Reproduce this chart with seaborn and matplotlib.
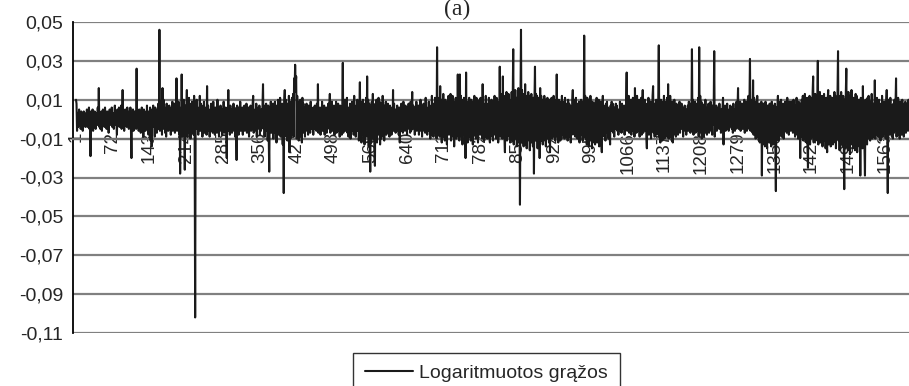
import numpy as np
import pandas as pd
import matplotlib
matplotlib.use("Agg")
import matplotlib.pyplot as plt
import seaborn as sns

# Log returns in thousandths
seg_a = [
 10, 8, -6, 3, -4, 2, 5, -3, 1, -5, 4, -2, 3, -6, 2, 4, -3, 1, -4, 3,
 -2, 5, -4, 3, -1, 6, -5, 2, -19, 4, -3, 2, 5, -6, 3, -2, 4, -1, -5, 3,
 2, -3, 6, -2, 16, -4, 3, -5, 2, 4, -6, 1, 5, -3, 2, -4, 6, -2, 3, -5,
 4, -1, 3, -7, 2, 5, -3, 4, -2, 6, -4, 1, 3, -5, 2, 7, -3, 4, -2, -8,
 5, -3, 2, 6, -4, 3, -2, 7, -5, 1, 15, -3, 4, -6, 2, 5, -2, 3, -4, 6,
 -3, 2, -5, 4, -2, 6, -4, -20, 3, -2, 5, -6, 2, 4, -3, 1, -5, 26, -4, 3,
 2, -6, 5, -3, 4, -7, 2, 6, -4, 3, -9, 5, -2, 4, -6, 3, -5, 7, -3, 2,
 -8, 4, -2, 6, -11, 3, -14, 5, -3, 7, -4, 2, -9, 6, -3, 4, -7, 5, -2, 8,
 -5, 46, -6, 9, -4, 7, -8, 16, -5, 10, -3, 6, -7, 4, -9, 8, -4, 5, -6, 3,
 7, -5, 4, -8, 6, -3, 9, -6, 5, -4, 8, -7, 3, -5, 21, -6, 7, -4, 9, -8,
]
seg_b = [
 6, -28, 5, -7, 23, -9, 8, -6, 10, -4, -26, 7, -8, 5, 15, -9, 6, -5, 11, -7,
 8, -10, 6, -4, 9, -7, 5, -8, 12, -6, -102, 7, -5, 10, -4, 6, -8, 5, -3, 12,
 -6, 8, -4, 7, -9, 5, -3, 9, -7, 4, -5, 6, -8, 17, -4, 7, -6, 3, -9, 5,
 -4, 8, -6, 3, -7, 9, -5, 4, -8, 6, -3, 5, -7, 10, -4, 6, -9, 3, -5, 7,
 -6, 4, -8, 5, -3, 9, -7, 4, -5, 6, -9, -20, 5, -4, 15, -6, 3, -8, 7, -4,
 5, -7, 3, -6, 8, -4, 6, -9, 4, -5, -21, 7, -4, 6, -8, 3, -5, 9, -6, 4,
 -3, 6, -8, 5, -4, 7, -6, 3, -5, 8, -7, 4, -3, 6, -9, 5, -4, 7, -6, 3,
 -5, 8, 12, -7, 4, -6, 5, -3, 8, -9, 4, -5, 6, -4, 7, -8, 3, -6, 5, -4,
 6, 18, -5, 7, -9, 4, -6, 8, -4, 5, -11, 7, -8, -27, 6, -5, 9, -7, 4, -6,
 8, -10, 5, -7, 9, -4, 6, -12, 7, -5, 10, -8, 4, -6, 11, -9, 5, -7, 8, -13,
]
seg_c = [
 6, -38, 9, 15, -7, 10, -9, 6, -11, 8, -5, 12, -17, 7, -10, 9, -6, 11, -8, 13,
 -9, 21, 14, 28, 18, 22, -10, 12, -7, 9, -11, 8, -6, 10, -9, 7, -12, 11, -5, 8,
 -7, 6, -9, 5, -4, 8, -6, 4, -8, 7, -3, 5, -7, 9, -5, 6, -4, 3, -8, 6,
 -5, 7, -3, 4, -6, 8, -4, 18, -7, 5, -3, 6, -8, 4, -5, 9, -6, 3, -4, 7,
 -8, 5, -3, 6, -7, 4, -5, 8, -4, 6, 13, -7, 5, -3, 9, -6, 4, -5, 7, -8,
 6, -4, 9, -7, 5, -3, 8, -6, 4, -9, 7, -5, 3, -8, 6, 29, -7, 5, -4, 10,
 -6, 8, -5, 11, -7, 4, -9, 6, -3, 8, -10, 5, -6, 9, -4, 7, -8, 12, -5, 6,
 -9, 7, -4, 10, -6, 8, -11, 5, 19, -7, 9, -12, 6, -8, 10, -5, 7, -13, 8, -6,
 11, -9, 22, -7, 10, -14, 8, -11, -27, 6, -12, 9, -8, 13, -10, 7, -15, -24, 8, -9,
 10, -12, 7, -8, 11, -6, 9, -13, 5, -10, 8, -7, 12, -9, 6, -11, 7, -5, 9, -8,
]
seg_d = [
 6, -4, 8, -7, 5, -9, 7, -3, 6, -8, 4, -5, 15, -6, 8, -4, 5, -7, 3, -6,
 7, -5, 4, -8, 6, -12, 5, -3, 8, -6, 4, -7, 9, -5, 3, -6, 7, -4, 5, -8,
 6, -3, 8, -5, 4, -7, 9, -6, 3, 14, -5, 7, -4, 6, -8, 5, -3, 9, -6, 4,
 -5, 7, -8, 4, -6, 10, -4, 7, -9, 5, -3, 8, -6, 4, -7, 11, -5, 6, -8, 4,
 -6, 9, -4, 7, -10, 5, -8, 12, -6, 4, -9, 8, -5, 11, -7, 6, -10, 37, -8, 9,
 -6, 11, -9, 17, -7, 10, -12, 8, -5, 13, -9, 7, -11, 10, -6, 8, -13, 9, -7, 12,
 -8, 10, -6, 13, -11, 7, -9, 12, -5, 9, -14, 8, -7, 11, -10, 6, -8, 23, -9, 7,
 -11, 23, -6, 12, -9, 8, -13, 10, -7, 11, -8, 9, -20, 24, -10, 7, -12, 9, -6, 11,
 -9, 7, -11, 10, -6, 8, -13, 9, -5, 12, -8, 6, -10, 11, -7, 9, -12, 8, -6, 10,
 -8, 11, -7, 9, -10, 18, -6, 8, -11, 7, -9, 12, -5, 8, -10, 6, -7, 11, -9, -12,
]
seg_e = [
 8, -6, 10, -9, 7, -11, 9, -5, 12, -8, 6, -10, 11, -7, 9, -12, 8, -6, 27, -9,
 11, -8, 13, -10, 22, -7, 12, -9, -17, 10, -6, 14, -11, 8, -9, 13, -7, 10, -12, 9,
 -8, 14, -11, 10, 36, -13, 12, -9, 15, -10, 11, -14, 9, -12, 16, -11, 13, -44, 10, 46,
 -12, 15, -10, 13, -14, 11, -9, 18, -13, 12, -15, 10, -11, 14, -9, 12, -16, 11, -10, 13,
 -12, 10, -14, 11, -28, 9, 27, -11, 13, -10, 12, -15, 9, -12, 11, -20, 16, -9, 12, -11,
 10, -13, 9, -11, 12, -8, 10, -14, 9, -7, 11, -10, 8, -12, 10, -17, 9, -8, 11, -10,
 8, -9, 12, -7, 10, -11, 8, -6, 23, -9, 7, -12, 10, -8, 9, -11, 6, -10, 12, -7,
 9, -8, 6, -10, 11, -7, 8, -9, 5, -11, 10, -6, 8, -9, 7, -12, 6, -8, 9, 15,
 -7, 10, -8, 6, -9, 11, -5, 7, -10, 8, -6, 9, -12, 7, -8, 10, -5, 9, -11, 6,
 -8, 43, -9, 12, -10, 8, -13, 11, -7, 9, -14, 10, -8, 12, -11, 7, -15, 9, -12, 8,
]
seg_f = [
 -10, 7, -13, 9, -8, 11, -12, 6, -9, 10, -14, 8, -7, 9, -11, -17, 6, 12, -8, 7,
 -9, 6, -11, 8, -5, 9, -7, 6, -10, 5, -8, -13, 7, -6, 9, -4, 8, -7, 5, -9,
 6, -5, 8, -4, 7, -6, 3, -8, 5, -4, 9, -6, 4, -7, 8, -5, 6, -3, 7, -8,
 5, -4, 11, 24, -6, 9, -5, 12, -7, 6, -4, 10, -8, 7, -5, 11, -6, 8, -9, 16,
 -5, 9, -7, 12, -4, 8, -6, 10, -9, 7, -5, 11, -8, 6, 15, -7, 9, -4, 10, -6,
 8, -9, -15, 7, -5, 11, -8, 6, -4, 9, -10, 7, -6, 12, 17, -7, 8, -9, 6, -5,
 10, -8, 7, -6, 11, 38, -9, 8, -12, 10, -7, 9, -11, 6, -8, 12, -10, 7, -6, 9,
 -9, 11, -7, 18, -10, 8, -6, 12, -9, 7, -11, 9, -12, 6, -8, 10, -7, 5, -9, 8,
 -6, 7, -8, 5, -4, 9, -7, 6, -5, 8, -3, 6, -9, 4, -5, 7, -6, 3, -8, 5,
 -4, 7, -6, 9, -5, 4, -7, 8, -3, 36, -6, 10, -8, 6, -4, 9, -7, 5, -6, 8,
]
seg_g = [
 -5, 11, -9, 37, -7, 12, -6, 9, -10, 8, -4, 7, -9, 6, -5, 10, -7, 4, -8, 6,
 -5, 8, -7, 5, -4, 9, -6, 4, -8, 7, -3, 6, 35, -9, 5, -4, 7, -6, 3, -5,
 6, -4, 8, -5, 3, -7, 5, -4, 6, 11, -13, 5, -3, 7, -6, 4, -5, 8, -4, 3,
 -6, 5, -4, 7, -3, 6, -5, 4, -7, 8, -4, 5, -6, 3, -5, 9, -4, 6, 16, -5,
 7, -4, 9, -6, 5, -3, 8, -5, 6, -4, 10, -7, 5, -3, 9, -6, 7, -5, 12, -4,
 8, 31, -6, 10, -5, 9, -7, 20, -8, 11, -6, 9, -10, 7, -8, 12, -9, 6, -11, 8,
 -12, 7, -10, 9, -29, 6, -13, 8, -11, 5, -14, 9, -10, 6, -15, 7, -9, 5, -12, 8,
 -11, 6, -14, 9, -10, 7, -13, 5, -9, 8, -16, -37, 6, -10, 7, 12, -11, 5, -8, 9,
 -7, 10, -9, 6, -5, 8, -10, 7, -4, 9, -6, 8, -7, 11, -5, 6, -8, 9, -4, 7,
 -6, 9, -5, 8, -7, 10, -4, 6, -9, 7, -5, 11, -8, 6, -10, 9, -7, 5, -20, 8,
]
seg_h = [
 -9, 10, -7, 12, -11, 8, -10, 13, -8, 9, -12, 11, -14, -25, 10, -9, 12, -13, 8, -10,
 11, -9, 14, 22, -12, 10, -8, 13, -11, 9, -10, 12, 30, -13, 11, -9, 14, -12, 10, -8,
 12, -14, 9, -11, 13, -10, 8, -15, 11, -12, -17, 10, 15, -13, 9, -11, 12, -14, 8, -10,
 11, -13, 9, -12, 14, -10, 12, -15, 10, -9, 13, 35, -11, 12, -16, 10, -13, 14, -10, 9,
 -14, 12, -11, -36, 10, -15, 13, 26, -12, 11, -16, 14, -10, 12, -18, 9, -13, 15, -11, 10,
 -15, 11, -12, 9, -16, 13, -10, 12, -17, 8, -13, 10, -14, 9, -29, 11, -12, 10, -15, 17,
 -11, 9, -14, -29, 10, -12, 8, -13, 11, -9, 12, -10, 7, -11, 9, -8, 13, -10, 6, -9,
 8, -7, 20, -10, 9, -6, 11, -8, 7, -9, 10, -5, 8, -11, 6, -7, 12, -9, 5, -8,
 9, -6, 7, -10, 8, 15, -7, -38, 10, -6, 9, -8, 11, -5, 7, -9, 6, -10, 8, -7,
 10, -6, 8, 21, -9, 7, -5, 11, -8, 6, -10, 9, -4, 7, -8, 10, -6, 5, -9, 8,
 -5, 9, -7, 6, -4, 8, -6, 10, -5, 7,
]

x_tick_labels = ["1", "72", "143", "214", "285", "356", "427", "498", "569",
                 "640", "711", "782", "853", "924", "995", "1066", "1137",
                 "1208", "1279", "1350", "1421", "1492", "1563"]
y_ticks = [-0.11, -0.09, -0.07, -0.05, -0.03, -0.01, 0.01, 0.03, 0.05]
y_tick_labels = ["-0,11", "-0,09", "-0,07", "-0,05", "-0,03", "-0,01",
                 "0,01", "0,03", "0,05"]
series_name = "Logaritmuotos grąžos"
title_text = "(a)"

values = np.array(seg_a + seg_b + seg_c + seg_d + seg_e + seg_f + seg_g + seg_h) / 1000.0
df = pd.DataFrame({"t": np.arange(1, len(values) + 1), "r": values})

sns.set_style("white")
plt.rcParams["font.family"] = ["Liberation Sans", "DejaVu Sans"]

W, H = 909, 386
fig = plt.figure(figsize=(W / 100, H / 100), dpi=100)
ax = fig.add_axes([73 / W, 1 - 333 / H, 1 - 73 / W, (333 - 22) / H])

sns.lineplot(data=df, x="t", y="r", ax=ax, color="#1a1a1a", lw=1.5,
             estimator=None, label=series_name, legend=False, zorder=3)

ax.set_xlim(-4.8, 1609)
ax.set_ylim(-0.11, 0.05)
ax.set_yticks(y_ticks)
ax.set_yticklabels(y_tick_labels)
ax.yaxis.grid(True, color="#808080", lw=1.6)
ax.set_axisbelow(True)

xt = [int(s) for s in x_tick_labels]
ax.set_xticks(xt)
ax.set_xticklabels(x_tick_labels)
ax.tick_params(axis="x", length=0, pad=-5, labelrotation=90, labelsize=13.5)
for lab in ax.get_xticklabels():
    lab.set_verticalalignment("top")
    lab.set_horizontalalignment("center")
ax.tick_params(axis="y", length=5, width=1.2, color="black", direction="out",
               pad=2, labelsize=14)
ax.set_xlabel("")
ax.set_ylabel("")

for s in ["top", "right"]:
    ax.spines[s].set_visible(False)
ax.spines["left"].set_color("black")
ax.spines["left"].set_linewidth(1.3)
ax.spines["bottom"].set_position(("data", -0.01))
ax.spines["bottom"].set_color("#707070")
ax.spines["bottom"].set_linewidth(1.6)

leg = fig.legend(handles=ax.get_lines()[:1], labels=[series_name],
                 loc="upper left", bbox_to_anchor=(353 / W, 1 - 353 / H),
                 frameon=True, fancybox=False, edgecolor="black",
                 fontsize=14, handlelength=2.5, borderpad=0.6,
                 handletextpad=0.3, borderaxespad=0)
leg.get_frame().set_linewidth(1.0)

fig.text(457 / W, 1 - 15 / H, title_text, ha="center", va="baseline",
         fontsize=17, family="Liberation Serif")

fig.savefig("out.png", dpi=100)
